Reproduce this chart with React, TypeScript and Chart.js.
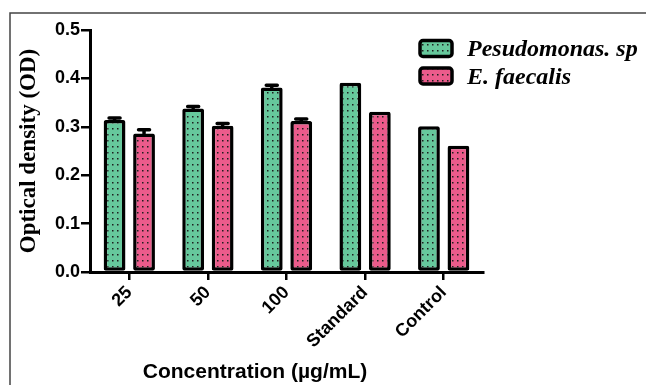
import React, { useEffect, useRef } from "react";
import { Chart, registerables } from "chart.js";
Chart.register(...registerables);

const categories = ["25", "50", "100", "Standard", "Control"];
const seriesLabels = ["Pesudomonas. sp", "E. faecalis"];
const pseudomonas = [0.314, 0.338, 0.381, 0.391, 0.301];
const pseudomonasErr = [0.004, 0.004, 0.005, 0, 0];
const faecalis = [0.286, 0.302, 0.312, 0.331, 0.261];
const faecalisErr = [0.008, 0.005, 0.004, 0, 0];
const yTicks = [0, 0.1, 0.2, 0.3, 0.4, 0.5];
const yTitle = "Optical density (OD)";
const xTitle = "Concentration (\u00b5g/mL)";

const GREEN = "#66c89c";
const PINK = "#eb5b8b";

function dotPattern(ctx: CanvasRenderingContext2D, color: string) {
  const c = document.createElement("canvas");
  c.width = 5;
  c.height = 6;
  const g = c.getContext("2d")!;
  g.fillStyle = color;
  g.fillRect(0, 0, 5, 6);
  g.fillStyle = "#1e1e1e";
  g.fillRect(2, 2, 1.5, 1.5);
  return ctx.createPattern(c, "repeat")!;
}

export default function App() {
  const ref = useRef<HTMLCanvasElement>(null);
  useEffect(() => {
    const canvas = ref.current!;
    const ctx = canvas.getContext("2d")!;
    const pats = [dotPattern(ctx, GREEN), dotPattern(ctx, PINK)];
    const errs = [pseudomonasErr, faecalisErr];

    const framePlugin = {
      id: "frame",
      beforeDraw(chart: any) {
        const c = chart.ctx;
        c.save();
        c.fillStyle = "#fff";
        c.fillRect(0, 0, chart.width, chart.height);
        c.strokeStyle = "#444";
        c.lineWidth = 1.5;
        c.beginPath();
        c.moveTo(10, chart.height);
        c.lineTo(10, 13);
        c.lineTo(chart.width, 13);
        c.stroke();
        c.restore();
      },
    };

    const errPlugin = {
      id: "errbars",
      afterDatasetsDraw(chart: any) {
        const c = chart.ctx;
        const ys = chart.scales.y;
        c.save();
        c.strokeStyle = "#000";
        c.lineWidth = 3.5;
        c.lineCap = "round";
        chart.data.datasets.forEach((ds: any, di: number) => {
          const meta = chart.getDatasetMeta(di);
          meta.data.forEach((bar: any, i: number) => {
            const e = errs[di][i];
            if (!e) return;
            const v = ds.data[i];
            const yTop = ys.getPixelForValue(v + e);
            const y0 = ys.getPixelForValue(v);
            c.beginPath();
            c.moveTo(bar.x, y0);
            c.lineTo(bar.x, yTop);
            c.moveTo(bar.x - 5.5, yTop);
            c.lineTo(bar.x + 5.5, yTop);
            c.stroke();
          });
        });
        c.restore();
      },
    };

    const textPlugin = {
      id: "texts",
      afterDraw(chart: any) {
        const c = chart.ctx;
        c.save();
        c.fillStyle = "#000";
        c.font = "bold 21px 'Liberation Sans', Arial, sans-serif";
        c.textAlign = "center";
        c.textBaseline = "middle";
        c.fillText(xTitle, 255, 372);
        const rows = [48.5, 76];
        rows.forEach((cy, i) => {
          c.beginPath();
          (c as any).roundRect(420, cy - 8, 32, 16, 3);
          c.fillStyle = pats[i];
          c.fill();
          c.lineWidth = 3.5;
          c.strokeStyle = "#000";
          c.stroke();
          c.fillStyle = "#000";
          c.font = "italic bold 24px 'Liberation Serif', 'Times New Roman', serif";
          c.textAlign = "left";
          c.textBaseline = "alphabetic";
          c.fillText(seriesLabels[i], 467, cy + 7.5);
        });
        c.restore();
      },
    };

    const tickFont = { family: "'Liberation Sans', Arial, sans-serif", weight: "bold" as const, size: 18 };

    const chart = new Chart(canvas, {
      type: "bar",
      data: {
        labels: categories,
        datasets: [
          {
            label: seriesLabels[0],
            data: pseudomonas,
            backgroundColor: pats[0],
            borderColor: "#000",
            borderWidth: 3.5,
            borderRadius: 2,
            borderSkipped: false,
            categoryPercentage: 0.75,
            barPercentage: 0.74,
          },
          {
            label: seriesLabels[1],
            data: faecalis,
            backgroundColor: pats[1],
            borderColor: "#000",
            borderWidth: 3.5,
            borderRadius: 2,
            borderSkipped: false,
            categoryPercentage: 0.75,
            barPercentage: 0.74,
          },
        ],
      },
      options: {
        animation: false,
        responsive: false,
        layout: { padding: { top: 30, right: 163, left: 0, bottom: 0 } },
        plugins: { legend: { display: false }, tooltip: { enabled: false } },
        scales: {
          x: {
            afterFit(s: any) {
              s.height = 113;
            },
            grid: {
              display: true,
              drawOnChartArea: false,
              drawTicks: true,
              offset: false,
              tickLength: 8,
              lineWidth: 2.5,
              color: "#000",
            },
            border: { display: true, width: 3, color: "#000" },
            ticks: {
              color: "#000",
              font: tickFont,
              maxRotation: 45,
              minRotation: 45,
              padding: 2,
            },
          },
          y: {
            min: 0,
            max: 0.5,
            afterFit(s: any) {
              s.width = 90;
            },
            afterBuildTicks(s: any) {
              s.ticks = yTicks.map((v) => ({ value: v }));
            },
            grid: {
              display: true,
              drawOnChartArea: false,
              drawTicks: true,
              tickLength: 9,
              lineWidth: 2.5,
              color: "#000",
            },
            border: { display: true, width: 3, color: "#000" },
            ticks: {
              color: "#000",
              font: tickFont,
              padding: 1,
              callback: (v: any) => Number(v).toFixed(1),
            },
            title: {
              display: true,
              text: yTitle,
              color: "#000",
              font: { family: "'Liberation Serif', 'Times New Roman', serif", weight: "bold", size: 23 },
              padding: { top: 15, bottom: 0 },
            },
          },
        },
      },
      plugins: [framePlugin, errPlugin, textPlugin],
    });
    return () => chart.destroy();
  }, []);

  return (
    <div style={{ position: "fixed", left: 0, top: 0, width: 646, height: 385, background: "#fff" }}>
      <canvas ref={ref} width={646} height={385} style={{ display: "block", width: 646, height: 385 }} />
    </div>
  );
}
